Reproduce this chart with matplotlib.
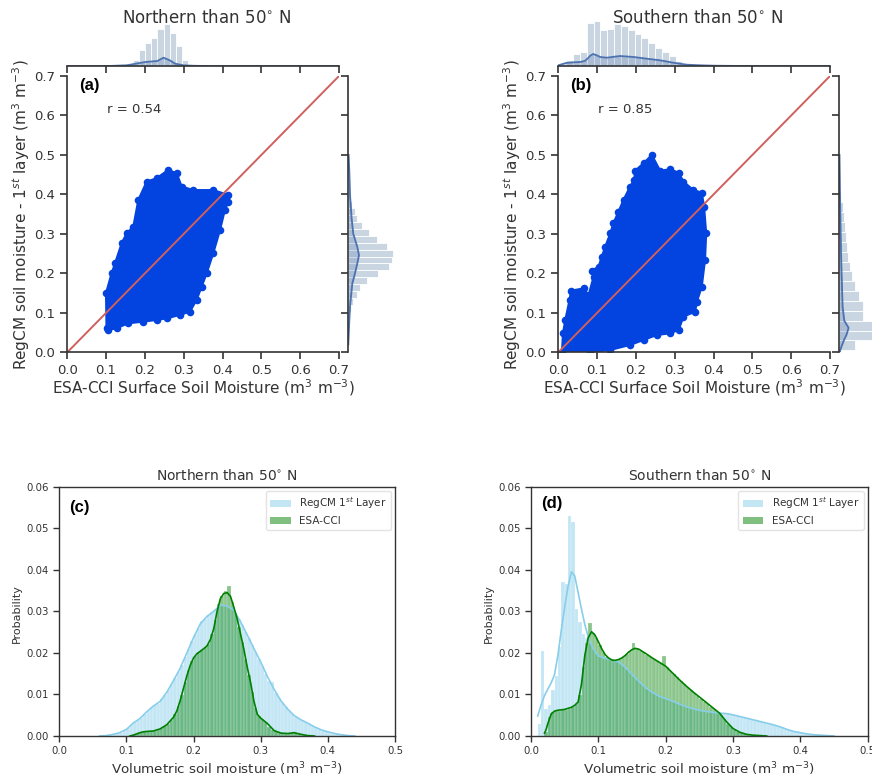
import numpy as np
import matplotlib
matplotlib.use("Agg")
import matplotlib.pyplot as plt
from matplotlib.patches import Patch

W, H = 872, 779

# ---------------- top row: ESA-CCI vs RegCM scatter clouds (outline of the cloud)
a_cloud_x = [0.101, 0.0997, 0.114, 0.123, 0.140, 0.153, 0.170, 0.183, 0.2045, 0.230, 0.260,
             0.282, 0.2947, 0.325, 0.376, 0.415, 0.415, 0.406, 0.3935, 0.376, 0.359, 0.346,
             0.333, 0.316, 0.290, 0.256, 0.230, 0.196, 0.157, 0.127, 0.106]
a_cloud_y = [0.061, 0.1495, 0.200, 0.2255, 0.276, 0.3015, 0.318, 0.386, 0.4324, 0.441, 0.462,
             0.4535, 0.4198, 0.411, 0.411, 0.3986, 0.382, 0.3606, 0.310, 0.251, 0.200, 0.166,
             0.1326, 0.103, 0.0946, 0.086, 0.082, 0.0777, 0.0735, 0.061, 0.0566]

b_cloud_x = [0.0094, 0.012, 0.018, 0.029, 0.0326, 0.065, 0.078, 0.091, 0.0866, 0.1038, 0.112,
             0.121, 0.134, 0.142, 0.155, 0.168, 0.185, 0.1955, 0.198, 0.2196, 0.241, 0.2624,
             0.288, 0.31, 0.3225, 0.348, 0.3696, 0.3756, 0.381, 0.378, 0.3696, 0.357, 0.3525,
             0.3225, 0.31, 0.288, 0.254, 0.2196, 0.185, 0.134, 0.082]
b_cloud_y = [0.0, 0.048, 0.082, 0.1326, 0.156, 0.162, 0.145, 0.1917, 0.207, 0.217, 0.2424,
             0.2677, 0.3015, 0.327, 0.3564, 0.386, 0.420, 0.4367, 0.460, 0.479, 0.50, 0.460,
             0.4637, 0.455, 0.4324, 0.411, 0.4046, 0.369, 0.3015, 0.234, 0.1664, 0.128, 0.103,
             0.0904, 0.0566, 0.048, 0.044, 0.0312, 0.0186, 0.006, 0.0]

one_to_one = [0.0, 0.7]
r_values = ["r = 0.54", "r = 0.85"]

# marginal histograms (relative counts) and kde
a_top_start, a_top_bin = 0.152, 0.016
a_top_h = [2.3, 5.7, 15.7, 23, 28, 37.3, 42.4, 33.3, 19.7, 6.3, 1.7]
a_top_kx = [0.0, 0.106, 0.153, 0.168, 0.201, 0.232, 0.248, 0.264, 0.278, 0.299, 0.325, 0.368, 0.7]
a_top_ky = [0.0, 0.0, 0.7, 1.7, 4.0, 5.0, 8.3, 5.7, 2.3, 0.7, 0.2, 0.0, 0.0]

a_side_start, a_side_bin = 0.085, 0.0175
a_side_h = [1, 2.3, 5, 8.3, 11.7, 19, 30, 40.7, 44, 45, 39, 29, 20.7, 14, 9, 6.7, 4, 1.7]
a_side_ky = [0.02, 0.064, 0.115, 0.149, 0.174, 0.20, 0.225, 0.246, 0.267, 0.30, 0.34, 0.40, 0.46, 0.5]
a_side_kx = [0.0, 0.7, 1.7, 3.0, 4.0, 6.7, 9.0, 10.7, 9.0, 5.0, 3.3, 1.7, 1.0, 0.3]

b_top_start, b_top_bin = 0.0206, 0.0176
b_top_h = [6, 12.5, 14, 43.5, 45, 36.3, 37, 41.7, 39.7, 36.3, 32.3, 28, 23, 18, 14, 9.7,
           4.7, 2.3, 1.3, 0.7]
b_top_kx = [0.0, 0.02, 0.04, 0.056, 0.068, 0.075, 0.083, 0.09, 0.1, 0.108, 0.125, 0.159,
            0.194, 0.228, 0.262, 0.296, 0.331, 0.365, 0.40, 0.45, 0.5, 0.7]
b_top_ky = [0.7, 3.0, 3.7, 4.0, 5.0, 7.3, 10.5, 12.0, 10.5, 9.0, 8.3, 10.0, 9.0, 7.3, 5.7,
            3.3, 1.3, 0.7, 0.3, 0.1, 0.0, 0.0]

b_side_start, b_side_bin = 0.005, 0.025
b_side_h = [15.3, 45, 45, 24, 23.3, 20, 15.7, 12.3, 10.7, 9, 7.3, 6.7, 6, 4.7, 3.3, 2]
b_side_ky = [0.0, 0.006, 0.018, 0.031, 0.045, 0.062, 0.08, 0.116, 0.2, 0.255, 0.4, 0.5]
b_side_kx = [0.5, 1.0, 2.7, 4.7, 7.3, 9.3, 5.0, 3.3, 2.3, 1.7, 0.7, 0.2]

# ---------------- bottom row: probability distributions
c_sky_start = 0.065
c_sky_h = [0.0001, 0.0002, 0.0003, 0.0005, 0.0007, 0.0008, 0.0012, 0.002, 0.0027, 0.0033,
           0.0039, 0.0044, 0.0053, 0.0061, 0.0068, 0.0074, 0.0078, 0.0088, 0.0098, 0.011,
           0.0125, 0.014, 0.0155, 0.0172, 0.019, 0.021, 0.0228, 0.0245, 0.026, 0.0276,
           0.0282, 0.0292, 0.0298, 0.0305, 0.0312, 0.0316, 0.0316, 0.0311, 0.0306, 0.0295,
           0.0282, 0.0268, 0.0251, 0.0235, 0.0218, 0.0201, 0.0186, 0.0168, 0.015, 0.0133,
           0.0131, 0.0104, 0.0091, 0.0079, 0.0069, 0.0061, 0.0053, 0.0046, 0.0041, 0.0037,
           0.0033, 0.0029, 0.0025, 0.0021, 0.0017, 0.0013, 0.0011, 0.0008, 0.0006, 0.0005,
           0.0003, 0.0002, 0.0001, 0.0001]
c_sky_kx = [0.06, 0.07, 0.08, 0.09, 0.10, 0.11, 0.12, 0.13, 0.14, 0.15, 0.16, 0.17, 0.18,
            0.19, 0.20, 0.21, 0.22, 0.23, 0.24, 0.25, 0.26, 0.27, 0.28, 0.29, 0.30, 0.31,
            0.32, 0.33, 0.34, 0.35, 0.36, 0.37, 0.38, 0.39, 0.40, 0.41, 0.42, 0.43, 0.44]
c_sky_ky = [0.0, 0.0001, 0.0004, 0.0008, 0.0016, 0.0031, 0.0042, 0.0058, 0.0072, 0.0083,
            0.0105, 0.0133, 0.0163, 0.020, 0.0237, 0.027, 0.0288, 0.030, 0.0315, 0.0313,
            0.0302, 0.0275, 0.0243, 0.021, 0.0178, 0.0143, 0.0112, 0.0085, 0.0065, 0.0049,
            0.0039, 0.0031, 0.0022, 0.0015, 0.001, 0.0006, 0.0003, 0.0001, 0.0]

c_esa_start = 0.105
c_esa_h = [0.0001, 0.0004, 0.0007, 0.0009, 0.0011, 0.0011, 0.0012, 0.0013, 0.0015, 0.0019,
           0.0024, 0.003, 0.0038, 0.0052, 0.0072, 0.0098, 0.013, 0.0158, 0.018, 0.0193,
           0.0201, 0.0207, 0.0213, 0.0222, 0.0245, 0.028, 0.0318, 0.0338, 0.0348, 0.036,
           0.0322, 0.0296, 0.0262, 0.0226, 0.0186, 0.0146, 0.0105, 0.0068, 0.0048, 0.004,
           0.0033, 0.0022, 0.0015, 0.0011, 0.0008, 0.0007, 0.0006, 0.0007, 0.0008, 0.0007,
           0.0005, 0.0003, 0.0002, 0.0001, 0.0001]
c_esa_kx = [0.105, 0.11, 0.12, 0.125, 0.13, 0.14, 0.15, 0.16, 0.17, 0.175, 0.18, 0.185, 0.19,
            0.195, 0.20, 0.205, 0.21, 0.215, 0.22, 0.225, 0.23, 0.235, 0.24, 0.245, 0.25,
            0.255, 0.26, 0.265, 0.27, 0.275, 0.28, 0.285, 0.29, 0.295, 0.30, 0.31, 0.32,
            0.33, 0.34, 0.35, 0.36, 0.37, 0.38]
c_esa_ky = [0.0, 0.0002, 0.0008, 0.001, 0.0011, 0.0012, 0.0017, 0.0027, 0.0045, 0.006,
            0.0085, 0.0115, 0.0145, 0.017, 0.0188, 0.0198, 0.0204, 0.021, 0.0217, 0.0232,
            0.0258, 0.030, 0.0331, 0.0343, 0.0345, 0.0336, 0.031, 0.0282, 0.0245, 0.0208,
            0.0165, 0.0128, 0.0083, 0.0052, 0.0043, 0.003, 0.0013, 0.0007, 0.0006, 0.0008,
            0.0004, 0.0001, 0.0]

d_sky_start = 0.010
d_sky_h = [0.003, 0.0205, 0.0065, 0.0075, 0.011, 0.0145, 0.0215, 0.037, 0.0365, 0.053,
           0.0515, 0.0305, 0.0275, 0.0245, 0.0235, 0.0222, 0.021, 0.0198, 0.019, 0.0186,
           0.0185, 0.0183, 0.0181, 0.0179, 0.0176, 0.017, 0.0162, 0.0153, 0.0144, 0.0136,
           0.0128, 0.0121, 0.0114, 0.0108, 0.0103, 0.0098, 0.0094, 0.0091, 0.0088, 0.0085,
           0.0082, 0.0079, 0.0075, 0.0072, 0.0069, 0.0067, 0.0064, 0.0062, 0.0061, 0.0059,
           0.0058, 0.0057, 0.0056, 0.0055, 0.0055, 0.0054, 0.0053, 0.0052, 0.005, 0.0048,
           0.0046, 0.0044, 0.0042, 0.004, 0.0038, 0.0036, 0.0034, 0.0032, 0.003, 0.0028,
           0.0026, 0.0024, 0.0021, 0.0018, 0.0015, 0.0012, 0.001, 0.0008, 0.0007, 0.0005,
           0.0004, 0.0003, 0.0003, 0.0002, 0.0002, 0.0001, 0.0001, 0.0001]
d_sky_kx = [0.01, 0.015, 0.02, 0.025, 0.03, 0.035, 0.04, 0.045, 0.05, 0.055, 0.06, 0.065,
            0.07, 0.075, 0.08, 0.085, 0.09, 0.095, 0.10, 0.11, 0.12, 0.13, 0.14, 0.15, 0.16,
            0.17, 0.18, 0.19, 0.20, 0.21, 0.22, 0.23, 0.24, 0.25, 0.26, 0.27, 0.28, 0.29,
            0.30, 0.31, 0.32, 0.33, 0.34, 0.35, 0.36, 0.37, 0.38, 0.39, 0.40, 0.41, 0.42,
            0.43, 0.44, 0.45]
d_sky_ky = [0.0048, 0.0075, 0.0097, 0.0113, 0.0128, 0.0148, 0.0195, 0.0255, 0.031, 0.036,
            0.0395, 0.0385, 0.0345, 0.0305, 0.0268, 0.0238, 0.0218, 0.0203, 0.0193, 0.0187,
            0.0183, 0.0178, 0.0166, 0.0148, 0.0132, 0.0117, 0.0105, 0.0096, 0.009, 0.0084,
            0.0077, 0.0071, 0.0066, 0.0062, 0.0059, 0.0057, 0.0055, 0.0054, 0.0051, 0.0047,
            0.0043, 0.0039, 0.0035, 0.0031, 0.0027, 0.0022, 0.0016, 0.0011, 0.0008, 0.0005,
            0.0003, 0.0002, 0.0001, 0.0]

d_esa_start = 0.020
d_esa_h = [0.001, 0.0045, 0.0058, 0.006, 0.0061, 0.0062, 0.0063, 0.0066, 0.0069, 0.0077,
           0.0098, 0.0165, 0.0225, 0.0272, 0.0248, 0.0235, 0.0218, 0.0203, 0.0191, 0.0185,
           0.0182, 0.0183, 0.0186, 0.0191, 0.0198, 0.0205, 0.0224, 0.021, 0.0205, 0.0201,
           0.0196, 0.0191, 0.0186, 0.0181, 0.0176, 0.0192, 0.0165, 0.0157, 0.0149, 0.0141,
           0.0133, 0.0125, 0.0118, 0.011, 0.0103, 0.0096, 0.009, 0.0083, 0.0077, 0.007,
           0.0064, 0.0058, 0.005, 0.004, 0.003, 0.0021, 0.0014, 0.001, 0.0007, 0.0005,
           0.0003, 0.0002, 0.0002, 0.0001, 0.0001]
d_esa_kx = [0.02, 0.0223, 0.025, 0.03, 0.035, 0.04, 0.05, 0.06, 0.065, 0.07, 0.075, 0.08,
            0.085, 0.09, 0.095, 0.10, 0.105, 0.11, 0.115, 0.12, 0.125, 0.13, 0.135, 0.14,
            0.145, 0.15, 0.155, 0.16, 0.17, 0.18, 0.19, 0.20, 0.21, 0.22, 0.23, 0.24, 0.25,
            0.26, 0.27, 0.28, 0.29, 0.30, 0.31, 0.32, 0.33, 0.34, 0.35]
d_esa_ky = [0.0007, 0.0015, 0.003, 0.0053, 0.006, 0.0062, 0.0064, 0.0069, 0.0074, 0.0082,
            0.0125, 0.0195, 0.0237, 0.0251, 0.0243, 0.0227, 0.021, 0.0196, 0.0188, 0.0183,
            0.0182, 0.0184, 0.0188, 0.0194, 0.0202, 0.0208, 0.0211, 0.0209, 0.0199, 0.0188,
            0.0178, 0.0168, 0.0152, 0.0136, 0.0121, 0.0107, 0.0094, 0.0081, 0.0068, 0.0055,
            0.0035, 0.0018, 0.0009, 0.0004, 0.0002, 0.0001, 0.0]

BIN = 0.005
BLUE = "#0343df"
RED = "#d0605e"
MARG = "#c9d5e1"
KDE = "#4c72b0"
INK = "#333333"

fig = plt.figure(figsize=(W / 100, H / 100), dpi=100)


def box(l, t, r, b):
    return [l / W, 1 - b / H, (r - l) / W, (b - t) / H]


def joint_panel(left, right, cx, cy, r_text, tag, title, top, side):
    ax = fig.add_axes(box(left, 76, right, 352.3))
    ax.fill(cx, cy, color=BLUE, lw=1.5)
    ax.scatter(cx, cy, s=30, color=BLUE, lw=0)
    ax.plot(one_to_one, one_to_one, color=RED, lw=1.4)
    ax.set_xlim(0, 0.7)
    ax.set_ylim(0, 0.7)
    ticks = np.round(np.arange(0, 0.71, 0.1), 1)
    ax.set_xticks(ticks)
    ax.set_yticks(ticks)
    ax.set_xticklabels(["%.1f" % t for t in ticks])
    ax.set_yticklabels(["%.1f" % t for t in ticks])
    for s in ["top", "right"]:
        ax.spines[s].set_visible(False)
    for s in ["left", "bottom"]:
        ax.spines[s].set_color(INK)
        ax.spines[s].set_linewidth(1.2)
    ax.tick_params(direction="out", length=5, width=1.2, color=INK,
                   labelsize=9.5, labelcolor=INK)
    ax.set_xlabel("ESA-CCI Surface Soil Moisture (m$^3$ m$^{-3}$)", fontsize=11, color=INK)
    ax.set_ylabel("RegCM soil moisture - 1$^{st}$ layer (m$^3$ m$^{-3}$)", fontsize=11, color=INK)
    ax.xaxis.set_label_coords(0.5, -0.09)
    ax.yaxis.set_label_coords(-0.13, 0.497)
    ax.text(0.043, 0.967, tag, transform=ax.transAxes, fontsize=12, fontweight="bold",
            family="Liberation Sans", va="center", ha="left")
    ax.text(0.146, 0.88, r_text, transform=ax.transAxes, fontsize=9.5, color=INK,
            va="center", ha="left")

    # top marginal
    t_start, t_bin, t_h, t_kx, t_ky = top
    axt = fig.add_axes(box(left, 20, right, 66))
    edges = t_start + t_bin * np.arange(len(t_h))
    axt.bar(edges, t_h, width=t_bin, align="edge", color=MARG, edgecolor="white", lw=0.6)
    axt.fill_between(t_kx, t_ky, color=KDE, alpha=0.25, lw=0)
    axt.plot(t_kx, t_ky, color=KDE, lw=1.3)
    axt.set_xlim(0, 0.7)
    axt.set_ylim(0, 46)
    axt.set_xticks(ticks)
    axt.set_yticks([])
    axt.tick_params(axis="x", direction="out", length=5, width=1.2, color=INK, labelbottom=False)
    for s in ["top", "right", "left"]:
        axt.spines[s].set_visible(False)
    axt.spines["bottom"].set_color(INK)
    axt.spines["bottom"].set_linewidth(1.2)
    axt.patch.set_alpha(0)

    # side marginal
    s_start, s_bin, s_h, s_ky, s_kx = side
    axs = fig.add_axes(box(right + 9.3, 76, right + 55.3, 352.3))
    edges = s_start + s_bin * np.arange(len(s_h))
    axs.barh(edges, s_h, height=s_bin, align="edge", color=MARG, edgecolor="white", lw=0.6)
    axs.fill_betweenx(s_ky, s_kx, color=KDE, alpha=0.25, lw=0)
    axs.plot(s_kx, s_ky, color=KDE, lw=1.3)
    axs.set_ylim(0, 0.7)
    axs.set_xlim(0, 46)
    axs.set_yticks(ticks)
    axs.set_xticks([])
    axs.tick_params(axis="y", direction="out", length=5, width=1.2, color=INK, labelleft=False)
    for s in ["top", "right", "bottom"]:
        axs.spines[s].set_visible(False)
    axs.spines["left"].set_color(INK)
    axs.spines["left"].set_linewidth(1.2)
    axs.patch.set_alpha(0)

    fig.text((left + right) / 2 / W + 0.004, 1 - 18 / H, title, ha="center", va="center",
             fontsize=12, color=INK)


def dist_panel(left, right, tag, tag_y, title, sky, esa):
    ax = fig.add_axes(box(left, 486.7, right, 736))
    s_start, s_h, s_kx, s_ky = sky
    e_start, e_h, e_kx, e_ky = esa
    ax.bar(s_start + BIN * np.arange(len(s_h)), s_h, width=BIN, align="edge",
           color="skyblue", alpha=0.5, edgecolor="white", lw=0.3)
    ax.plot(s_kx, s_ky, color="skyblue", lw=1.2)
    ax.bar(e_start + BIN * np.arange(len(e_h)), e_h, width=BIN, align="edge",
           color="green", alpha=0.45, edgecolor="white", lw=0.3)
    ax.plot(e_kx, e_ky, color="green", lw=1.2)
    ax.set_xlim(0, 0.5)
    ax.set_ylim(0, 0.06)
    xt = np.round(np.arange(0, 0.51, 0.1), 1)
    yt = np.round(np.arange(0, 0.061, 0.01), 2)
    ax.set_xticks(xt)
    ax.set_xticklabels(["%.1f" % t for t in xt])
    ax.set_yticks(yt)
    ax.set_yticklabels(["%.2f" % t for t in yt])
    for s in ax.spines.values():
        s.set_color(INK)
        s.set_linewidth(1.0)
    ax.tick_params(direction="out", length=4, width=1.0, color=INK, labelsize=7.3,
                   labelcolor=INK)
    ax.set_xlabel("Volumetric soil moisture (m$^3$ m$^{-3}$)", fontsize=9.7, color=INK)
    ax.set_ylabel("Probability", fontsize=8, color=INK)
    ax.xaxis.set_label_coords(0.5, -0.096)
    ax.yaxis.set_label_coords(-0.11, 0.493)
    ax.set_title(title, fontsize=10, color=INK, pad=5)
    ax.text(0.03, tag_y, tag, transform=ax.transAxes, fontsize=12, fontweight="bold",
            family="Liberation Sans", va="center", ha="left")
    handles = [Patch(facecolor="skyblue", alpha=0.5), Patch(facecolor="green", alpha=0.5)]
    leg = ax.legend(handles, ["RegCM 1$^{st}$ Layer", "ESA-CCI"], loc="upper right",
                    fontsize=7.5, frameon=True, borderaxespad=0.4)
    leg.get_frame().set_edgecolor("#dddddd")
    for t in leg.get_texts():
        t.set_color(INK)


joint_panel(67.3, 339, a_cloud_x, a_cloud_y, r_values[0], "(a)", "Northern than 50$^{\\circ}$ N",
            (a_top_start, a_top_bin, a_top_h, a_top_kx, a_top_ky),
            (a_side_start, a_side_bin, a_side_h, a_side_ky, a_side_kx))
joint_panel(558.3, 830, b_cloud_x, b_cloud_y, r_values[1], "(b)", "Southern than 50$^{\\circ}$ N",
            (b_top_start, b_top_bin, b_top_h, b_top_kx, b_top_ky),
            (b_side_start, b_side_bin, b_side_h, b_side_ky, b_side_kx))

dist_panel(59.3, 395, "(c)", 0.916, "Northern than 50$^{\\circ}$ N",
           (c_sky_start, c_sky_h, c_sky_kx, c_sky_ky), (c_esa_start, c_esa_h, c_esa_kx, c_esa_ky))
dist_panel(531, 867.7, "(d)", 0.933, "Southern than 50$^{\\circ}$ N",
           (d_sky_start, d_sky_h, d_sky_kx, d_sky_ky), (d_esa_start, d_esa_h, d_esa_kx, d_esa_ky))

fig.savefig("out.png", dpi=100)
